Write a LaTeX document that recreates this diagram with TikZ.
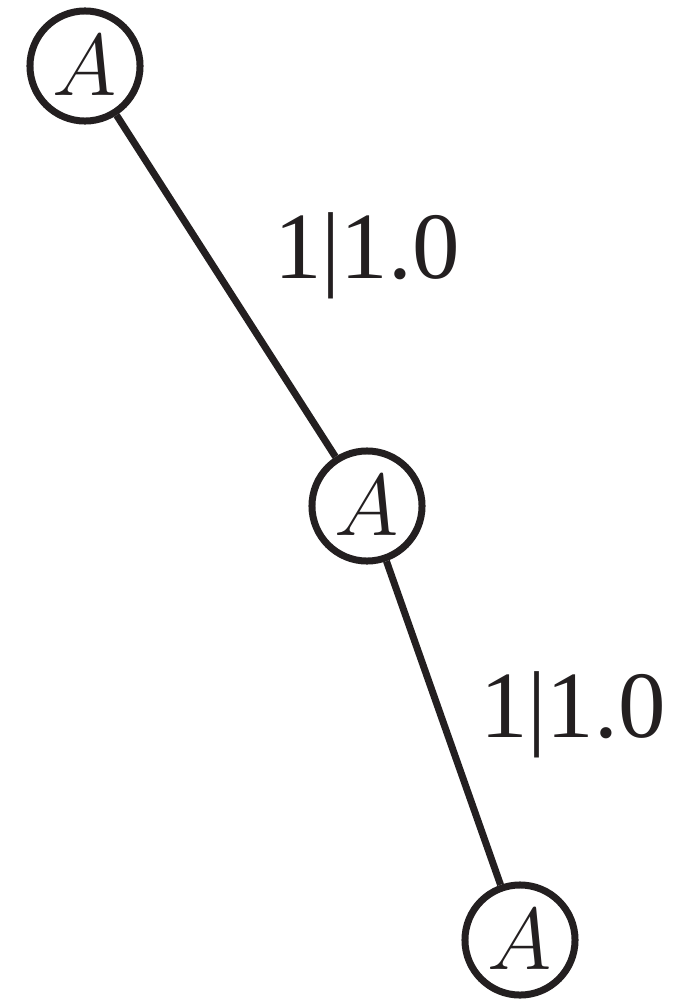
\documentclass[tikz,border=0pt]{standalone}
\usepackage{fontspec}
\newfontfamily\labelfont{Liberation Serif}
\definecolor{ink}{RGB}{35,31,32}
\begin{document}
\begin{tikzpicture}[x=0.01cm,y=-0.01cm,line width=0.07cm,color=ink,
	state/.style={circle,draw,minimum size=1.1cm,inner sep=0pt,font=\fontsize{29}{34}\selectfont},
	weight/.style={font=\labelfont\fontsize{27}{32}\selectfont}]
	\useasboundingbox (0,0) rectangle (692,1000);
	
	\node[state] (a1) at (85,66) {$A$};
	\node[state] (a2) at (367,506) {$A$};
	\node[state] (a3) at (520,940) {$A$};
	
	\draw (a1) -- (a2);
	\draw (a2) -- (a3);
	
	\node[weight] (w1) at (367,256) {1|1.0};
	\node[weight] (w2) at (573,715) {1|1.0};
\end{tikzpicture}
\end{document}
